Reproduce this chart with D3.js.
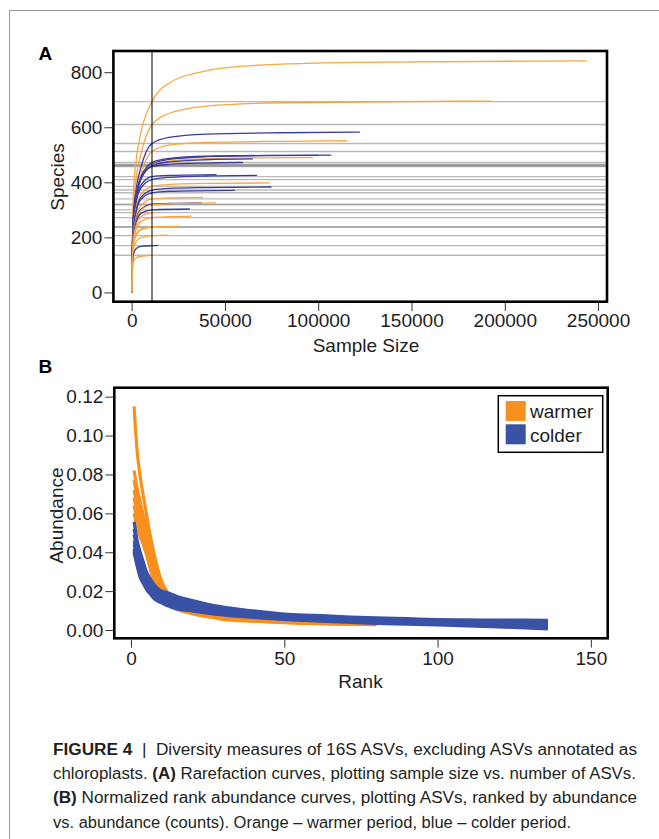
<!DOCTYPE html>
<html><head><meta charset="utf-8">
<script src="https://cdn.jsdelivr.net/npm/d3@7/dist/d3.min.js"></script>
<style>
html,body{margin:0;padding:0;background:#fff;}
svg{display:block;font-family:"Liberation Sans",Arial,Helvetica,sans-serif;}
</style></head>
<body><svg id="chart" width="659" height="839"></svg>
<script>
// ---------------- DATA ----------------
// Panel A: rarefaction curves, [sample size, species]
const rarefactionDepth = 10900;
const curvePeriod = ["warmer","warmer","colder","warmer","colder","colder","warmer","colder","colder","colder","colder","warmer","colder","colder","warmer","colder","warmer","colder","warmer","warmer","warmer","warmer","colder","warmer","warmer"];
const rarefactionCurves = [
  [[1,1],[800,347],[2500,485],[5000,582],[10900,693],[20000,760],[40000,805],[60000,822],[120000,836],[244000,841]],
  [[1,1],[800,300],[2500,420],[5000,505],[10900,610],[20000,650],[40000,677],[80000,689],[193000,695]],
  [[1,1],[800,270],[2500,380],[5000,455],[10900,541],[20000,563],[40000,575],[80000,580],[122300,582]],
  [[1,1],[800,256],[2500,360],[5000,430],[10900,512],[20000,535],[40000,545],[80000,549],[115500,551]],
  [[1,1],[800,260],[2500,360],[5000,420],[10900,472],[20000,487],[40000,495],[80000,498],[107000,499]],
  [[1,1],[800,255],[2500,355],[5000,415],[10900,465],[20000,483],[40000,493],[70000,497],[100000,498]],
  [[1,1],[800,250],[2500,350],[5000,410],[10900,462],[20000,477],[40000,486],[70000,489],[97300,490]],
  [[1,1],[800,255],[2500,352],[5000,412],[10900,460],[20000,474],[40000,482],[65000,485]],
  [[1,1],[800,260],[2500,355],[5000,415],[10900,457],[20000,465],[40000,470],[59700,472]],
  [[1,1],[800,250],[2500,340],[5000,390],[10900,421],[20000,425],[45500,428]],
  [[1,1],[800,240],[2500,330],[5000,380],[10900,410],[20000,418],[40000,423],[67200,425]],
  [[1,1],[800,230],[2500,310],[5000,355],[10900,385],[20000,392],[40000,396],[74100,398]],
  [[1,1],[800,225],[2500,300],[5000,345],[10900,372],[20000,378],[40000,381],[75000,383]],
  [[1,1],[800,220],[2500,295],[5000,338],[10900,362],[20000,367],[55400,371]],
  [[1,1],[800,205],[2500,275],[5000,315],[10900,340],[20000,343],[38300,345]],
  [[1,1],[800,200],[2500,265],[5000,302],[10900,321],[20000,323],[37500,325]],
  [[1,1],[800,195],[2500,260],[5000,298],[10900,318],[20000,322],[45200,325]],
  [[1,1],[800,195],[2500,255],[5000,287],[10900,300],[31200,303]],
  [[1,1],[800,175],[2500,230],[5000,258],[10900,272],[20000,275],[32100,277]],
  [[1,1],[800,170],[2500,212],[5000,230],[10900,239],[25900,240]],
  [[1,1],[800,168],[2500,210],[5000,228],[10900,236],[22000,238]],
  [[1,1],[800,150],[2500,185],[5000,199],[10900,206],[19300,208]],
  [[1,1],[800,135],[2500,160],[5000,167],[10900,170],[14300,171]],
  [[1,1],[800,108],[2500,126],[5000,131],[10900,135]],
  [[1,1],[800,185],[2500,245],[5000,275],[10900,290],[12500,291]]
];
const xTicksA = [0,50000,100000,150000,200000,250000];
const yTicksA = [0,200,400,600,800];

// Panel B: normalized rank abundance
const ranks = [1,2,3,4,5,6,7,8,10,12,15,20,25,30,40,50,60,70,80,90,100,110,120,136];
const warmerAbundance = [
  [.115,.092,.079,.069,.060,.051,.043,.036,.025,.019,.0148,.0108,.0088,.0075,.0060,.0050,.0043,.0038,.0034],
  [.082,.073,.066,.059,.053,.046,.039,.033,.023,.0175,.0138,.0102,.0083,.0071,.0057,.0047,.0041,.0036,.0032],
  [.077,.069,.062,.056,.050,.044,.037,.031,.0215,.0165,.013,.0097,.0079,.0067,.0054,.0045,.0039,.0035,.0031],
  [.072,.064,.058,.053,.047,.041,.034,.028,.0200,.0155,.0122,.0093,.0076,.0063,.0051,.0043,.0037,.0033,.0030],
  [.068,.060,.054,.049,.044,.038,.031,.026,.0185,.0145,.0116,.0089,.0073,.0060,.0049,.0041,.0035,.0032,.0029],
  [.064,.056,.051,.046,.041,.035,.029,.0235,.0170,.0137,.0110,.0086,.0070,.0057,.0047,.0039,.0034,.0031,.0028],
  [.060,.053,.048,.044,.039,.033,.027,.0215,.0160,.0130,.0106,.0084,.0068,.0055,.0045,.0038,.0033,.0030,.0028]
];
const colderAbundance = [
  [.0557,.046,.040,.035,.030,.027,.0245,.0225,.020,.0192,.0172,.0152,.0132,.0118,.0098,.0082,.0075,.0068,.0062,.0058,.0054,.0052,.0051,.0050],
  [.052,.044,.038,.033,.029,.026,.0235,.0215,.0192,.0183,.0165,.0145,.0127,.0113,.0094,.0078,.0071,.0064,.0058,.0054,.0050,.0048,.0046,.0044],
  [.049,.042,.036,.031,.027,.0245,.022,.0205,.0183,.0173,.0157,.0138,.0121,.0108,.0089,.0074,.0067,.0060,.0054,.0050,.0046,.0043,.0041,.0038],
  [.046,.040,.034,.029,.026,.023,.021,.0195,.0175,.0163,.0148,.0130,.0115,.0102,.0085,.0070,.0063,.0056,.0050,.0046,.0042,.0039,.0036,.0032],
  [.044,.038,.032,.028,.025,.022,.020,.0185,.0166,.0153,.0138,.0122,.0108,.0096,.0080,.0066,.0059,.0052,.0046,.0042,.0038,.0035,.0031,.0026],
  [.042,.036,.030,.026,.0235,.021,.019,.0175,.0157,.0143,.0128,.0114,.0101,.0090,.0075,.0062,.0055,.0048,.0042,.0038,.0034,.0030,.0026,.0020],
  [.041,.034,.028,.025,.022,.020,.018,.0165,.0148,.0133,.0118,.0106,.0094,.0084,.0070,.0058,.0051,.0044,.0038,.0034,.0030,.0026,.0021,.0014],
  [.040,.033,.027,.024,.021,.019,.017,.0155,.0140,.0124,.0108,.0098,.0087,.0078,.0065,.0054,.0047,.0040,.0034,.0030,.0026,.0021,.0016,.0006]
];
const xTicksB = [0,50,100,150];
const yTicksB = [0,0.02,0.04,0.06,0.08,0.10,0.12];
const legendLabels = ["warmer","colder"];

// ---------------- DRAW ----------------
const svg = d3.select("#chart");
const ink = "#1e1e1e";
const colA = {warmer:"#F5A843", colder:"#3B3C9E"};
const colB = {warmer:"#F7901E", colder:"#3A52A6"};

// figure frame
svg.append("line").attr("x1",9.5).attr("x2",9.5).attr("y1",10).attr("y2",839).attr("stroke","#9a9a9a").attr("stroke-width",1);
svg.append("line").attr("x1",9.5).attr("x2",659).attr("y1",10.5).attr("y2",10.5).attr("stroke","#9a9a9a").attr("stroke-width",1);

// ---------- Panel A ----------
const xA = d3.scaleLinear().domain([-9800,254800]).range([113.4,607]);
const yA = d3.scaleLinear().domain([-33.7,877]).range([301.7,51]);
const gA = svg.append("g");

// rarefied gray lines
rarefactionCurves.forEach(c=>{
  const p = c.find(d=>d[0]===rarefactionDepth) || c[c.length-1];
  gA.append("line").attr("x1",xA.range()[0]).attr("x2",xA.range()[1])
    .attr("y1",yA(p[1])).attr("y2",yA(p[1]))
    .attr("stroke","#000").attr("stroke-opacity",0.27).attr("stroke-width",1.3);
});
const lineA = d3.line().x(d=>xA(d[0])).y(d=>yA(d[1])).curve(d3.curveMonotoneX);
rarefactionCurves.forEach((c,i)=>{
  gA.append("path").attr("d",lineA(c)).attr("fill","none")
    .attr("stroke",colA[curvePeriod[i]]).attr("stroke-width",1.3);
});
gA.append("line").attr("x1",xA(rarefactionDepth)).attr("x2",xA(rarefactionDepth))
  .attr("y1",yA.range()[1]).attr("y2",yA.range()[0]).attr("stroke","#000").attr("stroke-width",1);
gA.append("rect").attr("x",xA.range()[0]).attr("y",yA.range()[1])
  .attr("width",xA.range()[1]-xA.range()[0]).attr("height",yA.range()[0]-yA.range()[1])
  .attr("fill","none").attr("stroke","#000").attr("stroke-width",2.6);

function styleAxis(g){
  g.select(".domain").remove();
  g.selectAll("line").attr("stroke","#333").attr("stroke-width",1);
  g.selectAll("text").attr("fill",ink).style("font-size","19px").style("font-family",'"Liberation Sans",Arial,sans-serif');
}
gA.append("g").attr("transform",`translate(${xA.range()[0]-1},0)`)
  .call(d3.axisLeft(yA).tickValues(yTicksA).tickSize(8).tickPadding(2).tickFormat(d3.format("d"))).call(styleAxis);
gA.append("g").attr("transform",`translate(0,${yA.range()[0]+1.3})`)
  .call(d3.axisBottom(xA).tickValues(xTicksA).tickSize(8).tickPadding(3).tickFormat(d3.format("d"))).call(styleAxis);

svg.append("text").attr("x",366).attr("y",351.5).attr("text-anchor","middle").attr("fill",ink).style("font-size","19px").text("Sample Size");
svg.append("text").attr("transform","translate(63.5,177) rotate(-90)").attr("text-anchor","middle").attr("fill",ink).style("font-size","19px").text("Species");
svg.append("text").attr("x",38.5).attr("y",60).attr("fill","#000").style("font-size","19px").style("font-weight","bold").text("A");

// ---------- Panel B ----------
const xB = d3.scaleLinear().domain([-5.45,155.5]).range([114.3,607.7]);
const yB = d3.scaleLinear().domain([-0.00427,0.12463]).range([638.3,387.7]);
const gB = svg.append("g");
const lineB = d3.line().x(d=>xB(d[0])).y(d=>yB(d[1])).curve(d3.curveMonotoneX);
warmerAbundance.forEach(v=>{
  gB.append("path").attr("d",lineB(v.map((a,i)=>[ranks[i],a]))).attr("fill","none")
    .attr("stroke",colB.warmer).attr("stroke-width",3.2).attr("stroke-linejoin","round");
});
colderAbundance.forEach(v=>{
  gB.append("path").attr("d",lineB(v.map((a,i)=>[ranks[i],a]))).attr("fill","none")
    .attr("stroke",colB.colder).attr("stroke-width",3.2).attr("stroke-linejoin","round");
});
gB.append("rect").attr("x",xB.range()[0]).attr("y",yB.range()[1])
  .attr("width",xB.range()[1]-xB.range()[0]).attr("height",yB.range()[0]-yB.range()[1])
  .attr("fill","none").attr("stroke","#000").attr("stroke-width",2.6);
gB.append("g").attr("transform",`translate(${xB.range()[0]-1},0)`)
  .call(d3.axisLeft(yB).tickValues(yTicksB).tickSize(8).tickPadding(2).tickFormat(d3.format(".2f"))).call(styleAxis);
gB.append("g").attr("transform",`translate(0,${yB.range()[0]+1.3})`)
  .call(d3.axisBottom(xB).tickValues(xTicksB).tickSize(8).tickPadding(4).tickFormat(d3.format("d"))).call(styleAxis);

// legend
const lg = gB.append("g");
lg.append("rect").attr("x",498.3).attr("y",395.7).attr("width",104.4).attr("height",56.6)
  .attr("fill","#fff").attr("stroke","#000").attr("stroke-width",1.5);
legendLabels.forEach((l,i)=>{
  lg.append("rect").attr("x",505.7).attr("y",401+i*23.3).attr("width",20).attr("height",20).attr("fill",colB[l]);
  lg.append("text").attr("x",530).attr("y",418.3+i*24).attr("fill",ink).style("font-size","19px").text(l);
});

svg.append("text").attr("x",360.5).attr("y",688).attr("text-anchor","middle").attr("fill",ink).style("font-size","19px").text("Rank");
svg.append("text").attr("transform","translate(63,515.5) rotate(-90)").attr("text-anchor","middle").attr("fill",ink).style("font-size","19px").text("Abundance");
svg.append("text").attr("x",38.5).attr("y",373).attr("fill","#000").style("font-size","19px").style("font-weight","bold").text("B");

// ---------- Caption ----------
const capLines = [
  {w:584, parts:[["FIGURE 4","b"],["  |  ",""],["Diversity measures of 16S ASVs, excluding ASVs annotated as",""]]},
  {w:583, parts:[["chloroplasts. ",""],["(A)","b"],[" Rarefaction curves, plotting sample size vs. number of ASVs.",""]]},
  {w:584, parts:[["(B)","b"],[" Normalized rank abundance curves, plotting ASVs, ranked by abundance",""]]},
  {w:518, parts:[["vs. abundance (counts). Orange \u2013 warmer period, blue \u2013 colder period.",""]]}
];
capLines.forEach((ln,i)=>{
  const t = svg.append("text").attr("x",53).attr("y",755+i*24.2).attr("fill","#231f20")
    .style("font-size","16px").style("font-family",'"Liberation Sans Narrow","Liberation Sans",Arial,sans-serif')
    .attr("textLength",ln.w).attr("lengthAdjust","spacingAndGlyphs").attr("xml:space","preserve");
  ln.parts.forEach(p=>{
    t.append("tspan").style("font-weight",p[1]==="b"?"bold":"normal").text(p[0]);
  });
});
</script>
</body></html>
